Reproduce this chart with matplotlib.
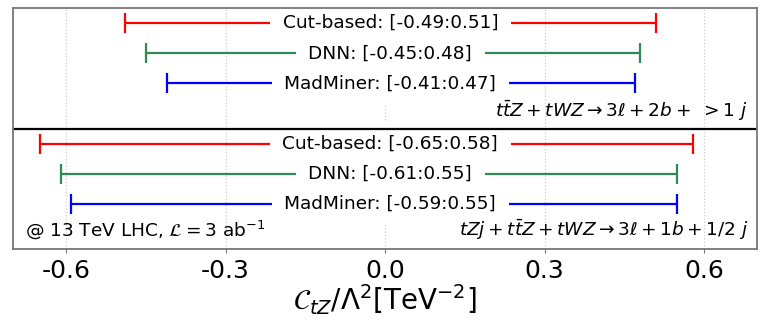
import matplotlib
matplotlib.use('Agg')
import matplotlib.pyplot as plt

# 95% CL intervals on C_tZ / Lambda^2 [TeV^-2]
methods = ['Cut-based', 'DNN', 'MadMiner']
colors = ['red', 'seagreen', 'blue']

top_lo = [-0.49, -0.45, -0.41]
top_hi = [0.51, 0.48, 0.47]
bot_lo = [-0.65, -0.61, -0.59]
bot_hi = [0.58, 0.55, 0.55]

top_label = r'$t\bar{t}Z + tWZ \rightarrow 3\ell + 2b +\ >1\ j$'
bot_label = r'$tZj + t\bar{t}Z + tWZ \rightarrow 3\ell + 1b + 1/2\ j$'
lumi_label = r'@ 13 TeV LHC, $\mathcal{L} = 3$ ab$^{-1}$'

top_y = [6, 5, 4]
bot_y = [2, 1, 0]

fig = plt.figure(figsize=(7.64, 3.23), dpi=100)
ax = fig.add_axes([0.017, 0.229, 0.974, 0.746])

for lo_list, hi_list, ys in [(top_lo, top_hi, top_y), (bot_lo, bot_hi, bot_y)]:
    for name, c, lo, hi, y in zip(methods, colors, lo_list, hi_list, ys):
        mid = (lo + hi) / 2
        ax.errorbar(mid, y, xerr=[[mid - lo], [hi - mid]], fmt='none', ecolor=c,
                    elinewidth=1.6, capsize=7, capthick=1.6, zorder=2)
        ax.text(0.01, y, '%s: [%.2f:%.2f]' % (name, lo, hi), ha='center', va='center',
                fontsize=13.3, zorder=3,
                bbox=dict(facecolor='white', edgecolor='none', pad=9))

ax.axhline(2.5, color='black', lw=1.6, zorder=4)

ax.text(0.683, 3.1, top_label, ha='right', va='center', fontsize=13.3)
ax.text(0.683, -0.87, bot_label, ha='right', va='center', fontsize=13.3)
ax.text(-0.677, -0.87, lumi_label, ha='left', va='center', fontsize=13.3)

ax.set_xlim(-0.7, 0.7)
ax.set_ylim(-1.5, 6.5)
ax.set_yticks([])
ax.set_xticks([-0.6, -0.3, 0.0, 0.3, 0.6])
ax.set_xticklabels(['-0.6', '-0.3', '0.0', '0.3', '0.6'], fontsize=18)
ax.tick_params(axis='x', length=3, color='#777777', pad=4)
ax.grid(True, axis='x', linestyle=':', color='#cccccc', lw=0.9, zorder=0)
ax.set_axisbelow(True)
for s in ax.spines.values():
    s.set_color('#777777')
    s.set_linewidth(1.3)
    s.set_zorder(5)

ax.set_xlabel(r'$\mathcal{C}_{tZ}/\Lambda^2[\mathrm{TeV}^{-2}]$', fontsize=20, labelpad=0)

fig.savefig('out.png', dpi=100)
